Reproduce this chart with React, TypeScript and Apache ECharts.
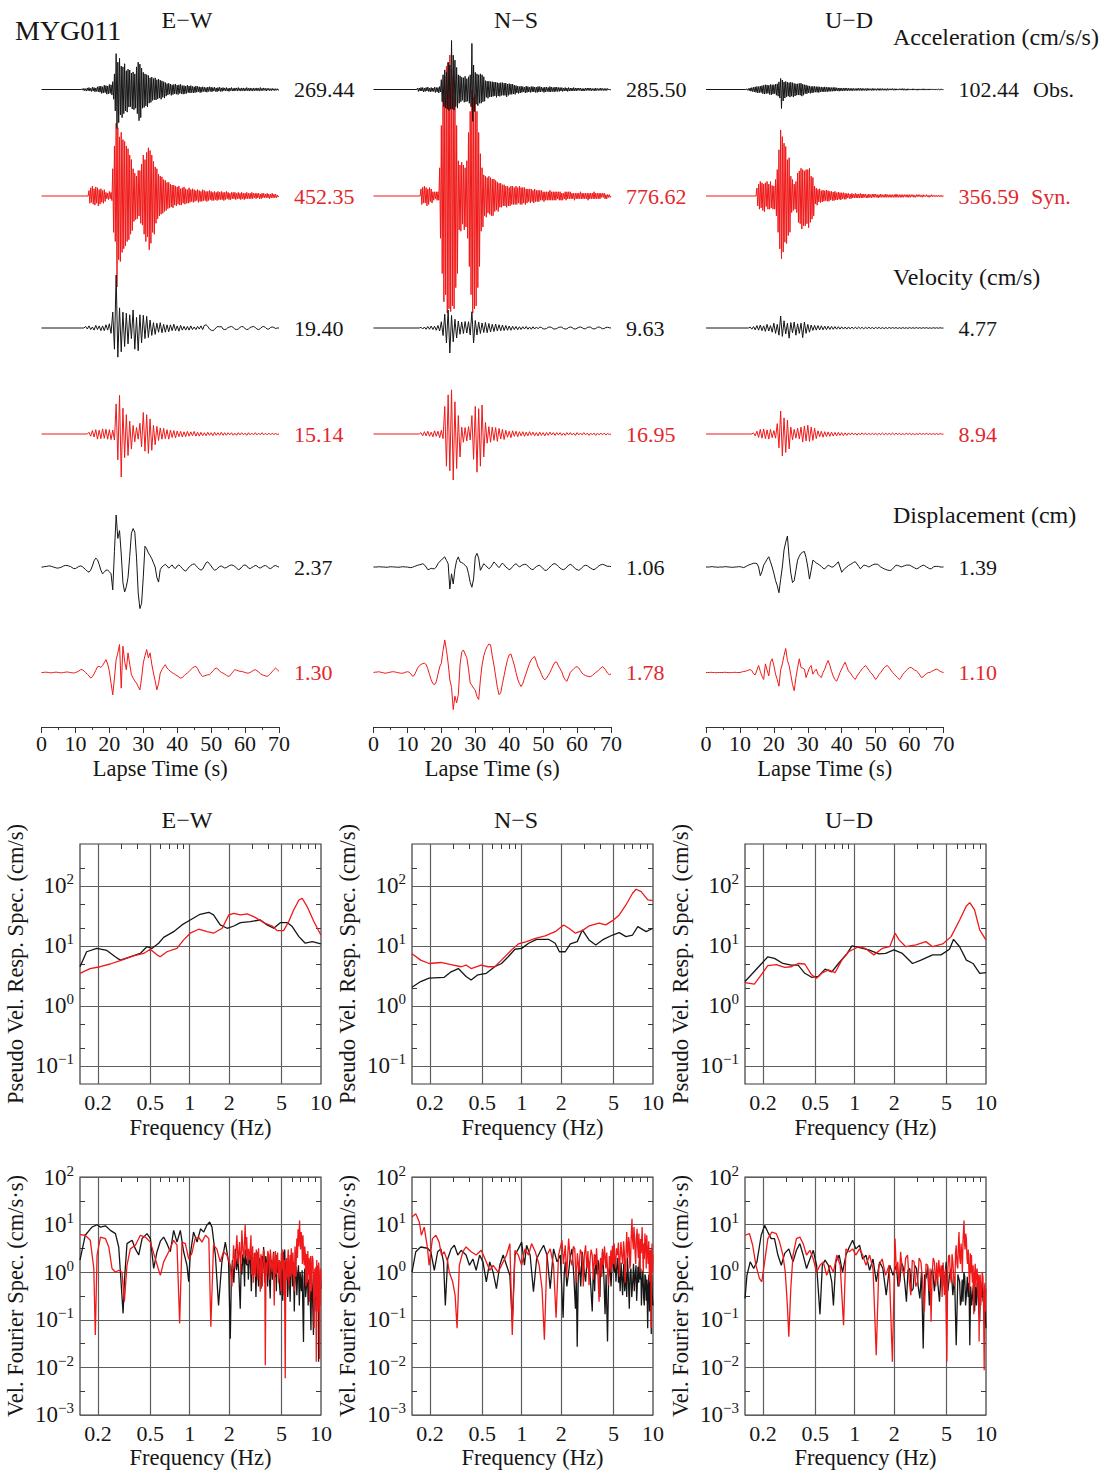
import React, { useEffect, useRef } from 'react';
import * as echarts from 'echarts';

// ---------------- DATA ----------------
const components = ['E\u2212W', 'N\u2212S', 'U\u2212D'];

// peak amplitude labels [E-W, N-S, U-D]
const accObsPeaks = ['269.44', '285.50', '102.44'];
const accSynPeaks = ['452.35', '776.62', '356.59'];
const velObsPeaks = ['19.40', '9.63', '4.77'];
const velSynPeaks = ['15.14', '16.95', '8.94'];
const dispObsPeaks = ['2.37', '1.06', '1.39'];
const dispSynPeaks = ['1.30', '1.78', '1.10'];

// waveforms: percent of the trace's peak, uniformly sampled from the trace start time
const ACC_DT = 0.25;
const VEL_DT = 0.5;
const DISP_DT = 0.5;

const accEwObs = [2,-2,3,-3,2,-4,4,-3,5,-4, 3,-5,6,-4,5,-6,4,-5,7,-6, 8,-7,9,-10,7,-9,11,-8,10,-12, 9,-11,13,-10,12,-14,20,-25,40,-55, 92,-100,70,-85,80,-65,60,-72,58,-62, 66,-55,48,-58,52,-45,50,-44,42,-50, 45,-52,40,-48,58,-62,70,-80,65,-72, 55,-48,44,-46,40,-42,38,-45,36,-35, 30,-33,32,-28,28,-26,30,-27,25,-24, 27,-22,24,-25,22,-20,20,-22,18,-17, 15,-14,16,-12,14,-15,12,-13,13,-11, 14,-12,11,-13,12,-10,13,-11,10,-12, 10,-11,9,-10,11,-8,9,-9,10,-8, 8,-9,7,-8,9,-7,8,-6,7,-8, 6,-7,7,-5,6,-6,5,-7,6,-5, 7,-5,6,-6,5,-4,6,-5,4,-6, 5,-4,6,-5,4,-5,5,-3,4,-4, 5,-4,3,-5,4,-3,5,-4,3,-4, 4,-3,4,-4,5,-3,3,-4,4,-3, 4,-4,3,-3,5,-3,3,-4,4,-3, 3,-4,4,-3,3,-3,4,-3,3,-4, 5,-3,3,-3,4,-2,3,-4,3,-2, 3,-3,2,-3,3,-2,2,-3,2,-2, 2,-2,0];
const accEwSyn = [6,-8,9,-7,11,-9,8,-10,10,-8, 9,-11,7,-9,8,-7,6,-8,7,-6, 4,-3,3,-4,5,-3,4,-5,30,-40, 55,-50,80,-100,75,-70,65,-72,70,-62, 62,-58,60,-55,55,-50,52,-48,45,-42, 40,-38,30,-28,25,-26,22,-25,28,-22, 28,-30,35,-32,45,-42,40,-50,48,-45, 53,-59,50,-52,45,-40,38,-42,32,-30, 30,-25,24,-22,22,-20,21,-19,18,-17, 17,-16,15,-14,15,-13,13,-12,12,-13, 12,-10,11,-11,10,-9,11,-10,8,-10, 9,-8,10,-9,8,-8,7,-8,9,-7, 7,-6,8,-7,7,-6,6,-5,7,-7, 6,-6,5,-6,7,-5,6,-5,5,-6, 5,-5,6,-4,5,-5,4,-5,5,-4, 4,-5,5,-4,4,-4,5,-4,4,-5, 4,-4,5,-3,4,-4,3,-4,4,-3, 4,-3,4,-4,3,-3,4,-3,3,-4, 4,-3,3,-4,3,-3,4,-3,3,-3, 3,-3,4,-3,3,-2,3,-3,3,-2, 3,-3,2,-3,3,-2,3,-2,2,-2, 3,-2,2,-3,2,-2,3,-2,2,-2, 2,-2,1,-1,0];
const accNsObs = [3,-4,3,-3,4,-3,4,-5,3,-4, 4,-3,5,-4,3,-5,4,-4,3,-4, 5,-6,4,-5,4,-7,6,-5,20,-25, 30,-35,40,-38,35,-40,55,-43,50,-40, 100,-40,70,-42,60,-35,45,-38,30,-28, 28,-25,25,-22,24,-26,27,-25,22,-24, 26,-28,30,-35,94,-65,50,-45,35,-30, 32,-33,30,-28,32,-28,30,-25,26,-24, 18,-16,17,-18,17,-15,16,-15,16,-14, 15,-13,15,-16,14,-13,13,-14,14,-12, 14,-12,13,-12,13,-15,11,-12,12,-10, 11,-10,11,-9,9,-10,8,-7,7,-8, 6,-7,7,-6,6,-5,5,-7,7,-6, 6,-5,5,-6,6,-5,6,-5,5,-6, 5,-6,6,-5,6,-5,5,-4,4,-6, 5,-5,5,-4,4,-5,6,-5,5,-4, 4,-5,5,-4,5,-4,4,-4,4,-3, 4,-4,3,-3,4,-3,3,-4,4,-3, 3,-3,3,-3,4,-3,3,-3,3,-2, 3,-2,3,-3,2,-3,2,-3,3,-2, 3,-2,3,-2,3,-3,2,-2,2,-3, 3,-2,2,-2,2,-2,3,-2,2,-2, 2,-2,2,-2,2,-1,1,-1,0];
const accNsSyn = [5,-6,6,-5,7,-5,6,-7,5,-6, 6,-4,5,-5,3,-3,3,-2,3,-3, 3,-3,20,-30,50,-55,70,-75,85,-70, 92,-83,95,-80,100,-82,90,-78,85,-80, 70,-65,50,-55,25,-24,22,-25,24,-20, 22,-24,20,-22,25,-30,45,-50,60,-70, 75,-83,70,-80,72,-78,60,-65,45,-50, 30,-25,20,-22,15,-14,14,-15,13,-12, 14,-13,13,-14,12,-14,12,-11,11,-10, 10,-11,9,-8,9,-8,8,-7,8,-7, 7,-8,7,-7,6,-7,7,-6,7,-6, 6,-6,7,-6,6,-5,7,-6,6,-6, 6,-5,6,-6,5,-5,5,-4,5,-5, 5,-4,4,-5,5,-4,4,-4,4,-4, 4,-3,4,-3,3,-4,3,-3,3,-3, 3,-3,4,-3,3,-3,3,-3,3,-3, 3,-2,3,-3,3,-3,2,-3,2,-2, 3,-3,3,-2,3,-2,3,-2,2,-2, 2,-3,2,-2,2,-2,2,-2,3,-2, 2,-2,2,-2,2,-2,2,-3,2,-2, 2,-2,2,-2,3,-2,2,-2,2,-2, 2,-2,2,-1,2,-1,2,-2,1,-2, 1,-1,1,-1,0];
const accUdObs = [3,-4,5,-6,8,-9,10,-11,12,-13, 14,-15,16,-18,15,-17,18,-16,20,-22, 22,-24,25,-22,24,-20,22,-26,26,-28, 25,-24,25,-22,28,-30,30,-35,40,-45, 58,-100,50,-60,40,-45,42,-38,38,-35, 36,-40,38,-35,36,-40,32,-34,30,-30, 30,-28,32,-30,33,-35,28,-30,25,-22, 24,-23,20,-18,19,-20,16,-18,17,-16, 16,-14,15,-15,15,-16,14,-13,13,-12, 12,-13,14,-11,12,-12,12,-10,11,-10, 10,-9,11,-9,11,-8,9,-8,8,-9, 8,-7,7,-8,8,-7,8,-6,7,-7, 7,-6,6,-6,6,-7,6,-5,5,-6, 6,-5,7,-5,6,-6,6,-5,5,-5, 5,-6,6,-5,5,-4,4,-5,6,-5, 5,-4,4,-5,5,-4,5,-5,5,-4, 5,-4,4,-4,4,-5,5,-4,4,-3, 4,-3,5,-4,4,-4,4,-3,3,-3, 4,-3,4,-3,5,-4,4,-4,3,-4, 4,-3,3,-3,3,-3,4,-3,3,-3, 3,-4,3,-3,3,-3,3,-3,4,-3, 3,-3,3,-3,3,-3,3,-2,3,-2, 3,-2,2,-2,3,-2,2,-2,2,-2, 2,-1,0];
const accUdSyn = [12,-15,18,-20,22,-18,20,-22,18,-24, 20,-16,22,-20,18,-20,22,-18,16,-20, 15,-20,25,-30,40,-55,70,-80,100,-95, 90,-85,80,-70,75,-72,55,-60,58,-55, 30,-25,25,-22,18,-20,22,-25,35,-40, 38,-42,42,-50,40,-45,38,-45,40,-42, 40,-48,42,-40,30,-35,28,-30,15,-12, 12,-14,10,-9,11,-10,8,-9,9,-8, 8,-7,9,-8,8,-8,7,-6,7,-7, 6,-7,7,-6,5,-6,6,-5,5,-6, 5,-4,5,-5,4,-5,4,-3,4,-4, 3,-4,4,-3,3,-3,4,-3,3,-3, 3,-3,4,-3,3,-3,3,-2,3,-3, 2,-3,3,-2,2,-3,3,-2,3,-2, 3,-2,2,-3,2,-2,3,-2,2,-2, 2,-2,3,-2,2,-2,2,-2,2,-2, 2,-2,2,-2,3,-2,2,-2,2,-2, 2,-2,2,-2,2,-1,2,-2,2,-2, 2,-2,2,-1,2,-2,1,-2,2,-1, 2,-1,2,-1,1,-2,2,-1,1,-1, 2,-1,1,-2,1,-1,2,-1,1,-1, 1,-1,1,-1,1,-1,1,-1,1,-1, 0];

const velEwObs = [3,-2,4,-3,2,-4,5,-3,4,-5, 4,-5,6,-4,8,-10,30,-40,100,-55, 38,-45,30,-35,28,-30,25,-20,34,-40, 20,-43,25,-28,24,-20,22,-18,15,-14, 10,-12,9,-8,10,-9,7,-8,6,-7, 6,-5,7,-5,4,-6,5,-4,3,-4, 3,-4,4,-3,2,-3,3,-2,4,-3, 5,6,3,-2,-4,-5,-3,1,3,2, 3,-2,-3,-2,1,2,3,1,-2,-3, -2,1,3,2,-1,-3,-2,1,2,3, 1,-2,-3,-1,2,3,1,-2,-2,1, 2,1,-1,0,0];
const velEwSyn = [4,-5,8,-7,10,-12,9,-11,12,-10, 11,-12,10,-13,9,-14,70,-60,90,-100, 60,-55,45,-50,30,-35,20,-18,15,-12, 25,-30,50,-40,45,-45,35,-38,20,-25, 18,-15,14,-12,13,-11,10,-12,9,-8, 8,-9,7,-6,6,-7,5,-6,6,-5, 5,-4,6,-5,4,-5,4,-4,3,-4, 4,-3,3,-4,4,-3,3,-3,4,-3, 3,-3,3,-2,3,-3,2,-3,3,-2, 3,-2,2,-3,3,-2,2,-2,3,-2, 2,-2,3,-2,2,-2,2,-2,2,-1, 1,-1,0];
const velNsObs = [3,-4,4,-5,6,-5,8,-6,7,-9, 10,-12,25,-30,55,-60,72,-100,50,-55, 35,-40,28,-25,24,-22,26,-20,25,-28, 65,-60,30,-28,24,-22,20,-18,22,-19, 18,-16,15,-14,16,-12,13,-11,12,-10, 10,-9,8,-9,7,-6,6,-7,5,-6, 5,-4,6,-5,4,-5,5,-4,4,-3, 4,2,-3,-4,-2,3,4,2,-3,-4, -2,2,4,3,-2,-4,-3,2,4,2, -3,-4,-1,3,4,1,-3,-3,2,4, 3,-2,-4,-2,3,4,1,-3,-2,2, 3,1,0];
const velNsSyn = [3,-4,5,-4,6,-5,4,-6,7,-5, 6,-8,8,-10,60,-70,85,-80,96,-100, 70,-75,40,-50,15,-18,14,-15,16,-13, 40,-55,60,-83,55,-70,63,-50,25,-20, 16,-18,15,-14,14,-16,12,-11,10,-12, 8,-7,6,-8,7,-5,6,-6,5,-4, 5,-5,4,-4,5,-3,4,-4,3,-4, 4,-3,3,-4,3,-3,4,-2,3,-3, 3,-2,3,-3,2,-3,3,-2,3,-2, 2,-3,3,-2,2,-2,3,-2,2,-3, 2,-2,2,-3,2,-2,2,-2,2,-2, 1,-1,0];
const velUdObs = [8,-10,12,-15,20,-18,25,-22,18,-28, 30,-25,20,-35,40,-45,30,-60,100,-70, 60,-50,40,-85,45,-40,50,-60,35,-45, 40,-80,50,-45,30,-35,25,-20,22,-18, 20,-16,18,-15,16,-14,15,-12,13,-11, 12,-10,11,-9,10,-9,8,-9,9,-8, 8,-7,7,-6,8,-6,6,-7,6,-5, 6,-5,5,-6,5,-4,5,-5,4,-5, 4,-4,5,-4,4,-3,4,-4,3,-4, 4,-3,3,-4,4,-3,3,-3,4,-3, 3,-3,3,-2,3,-3,2,-3,3,-2, 2,-2,2,-1,0];
const velUdSyn = [5,-8,12,-15,20,-18,22,-20,18,-22, 20,-16,15,-18,45,-60,100,-95,70,-80, 60,-65,30,-25,20,-18,25,-22,30,-35, 35,-30,38,-32,30,-28,25,-20,14,-12, 12,-14,10,-11,9,-10,8,-9,7,-8, 7,-6,6,-7,5,-6,5,-4,5,-4, 4,-5,4,-4,5,-3,4,-4,3,-4, 4,-3,3,-4,3,-3,4,-3,3,-3, 3,-3,4,-3,3,-2,3,-3,2,-3, 3,-2,3,-3,2,-3,2,-2,3,-2, 2,-2,3,-2,2,-2,2,-2,2,-2, 2,-1,0];

const dispEwObs = [0,0,1,1,2,2,1,0,-1,-2, -2,-1,0,2,3,3,2,1,-1,-3, -3,-1,1,2,1,-2,-5,-8,-10,-6, 2,12,17,14,5,-6,-13,-10,-6,-6, -9,-13,-44,30,100,55,70,25,-30,-48, -38,-20,20,65,74,67,19,-50,-80,-70, -19,40,35,27,22,16,8,0,-20,-29, -5,0,3,5,2,-2,1,4,-1,-3, 2,4,1,-3,-6,-8,-4,0,3,5, 6,3,-1,-4,-6,-4,2,8,10,6, 2,-3,-6,-5,-2,1,2,0,-2,-1, 1,3,4,3,1,-2,-5,-4,0,3, 4,2,-2,-3,-1,1,3,2,-1,-2, 0,2,3,1,-2,-3,-1,2,3,1, 0];
const dispEwSyn = [0,0,1,1,0,-1,-1,0,1,1, 0,-1,-1,0,1,2,1,0,-1,-2, 0,2,5,10,10,6,0,-6,-12,-20, -15,-5,8,20,22,18,25,35,46,30, 5,-38,-80,-20,46,70,100,-56,94,40, 10,70,30,-8,-20,-30,-38,-50,-62,-20, 34,60,82,52,70,30,-2,-30,-62,-40, -2,10,20,28,16,10,4,0,-4,-8, -12,-16,-20,-18,-12,-6,-2,4,10,16, 20,22,14,2,-8,-14,-12,-10,-8,-8, -2,6,12,16,12,6,0,-2,-6,-10, -14,-12,-4,4,10,8,6,4,4,2, 0,-2,-2,0,4,8,10,6,2,-4, -8,-10,-12,-14,-10,-4,4,10,16,10, 4];
const dispNsObs = [0,0,0,1,1,0,0,-1,-1,0, 1,1,0,0,-1,-1,0,1,1,0, 0,-2,-3,-1,2,5,8,10,12,15, 10,0,-12,-10,-6,-8,-8,0,15,25, 31,40,46,30,15,-100,-31,-77,-10,30, 46,23,20,15,8,0,-30,-70,-92,-54, 46,62,40,-15,0,15,8,0,-8,-2, 10,23,15,5,-3,8,18,10,0,-6, -12,-8,2,10,15,8,0,5,10,12, 12,4,-4,-10,-12,-5,2,6,8,0, -8,-15,-15,-8,0,8,14,15,10,2, -5,-10,-12,-8,0,8,12,8,0,-8, -12,-15,-10,-2,5,8,6,0,-5,-10, -12,-8,0,6,10,12,10,6,3,3, 2];
const dispNsSyn = [0,1,1,2,1,0,-1,-2,-1,0, 1,2,2,1,0,-1,-2,-2,-1,1, 2,1,-4,-10,-8,2,12,18,22,24, 25,22,10,-5,-20,-30,-33,-25,-5,15, 25,60,88,60,25,-20,-40,-100,-64,-82, -60,20,55,61,50,40,10,-28,-35,-42, -48,-65,-73,-20,20,45,60,70,77,75, 45,20,-10,-40,-60,-55,-30,-8,15,35, 48,50,35,20,0,-18,-30,-38,-30,-15, -2,12,25,34,40,43,30,15,7,-5, -15,-20,-15,-8,0,10,20,28,28,18, 10,2,-12,-20,-24,-12,0,5,10,14, 16,12,5,-2,-6,-8,-10,-11,-11,-8, -4,0,3,8,12,16,12,5,-2,-6, -4];
const dispUdObs = [0,0,0,1,1,0,0,-1,0,0, 0,1,1,0,0,-1,-1,0,0,1, 1,0,-2,0,3,6,8,10,12,12, 11,0,-28,-15,6,15,25,33,17,0, -20,-44,-60,-83,-40,0,55,80,100,30, -20,-50,-44,-10,22,35,44,48,50,30, 0,-39,-10,22,18,13,10,6,2,-4, -6,0,6,3,0,0,6,10,17,0, -17,-10,-4,0,5,8,11,15,17,10, 2,-6,0,6,5,3,0,3,6,9, 9,9,5,0,-3,-6,-8,-10,-11,-11, -6,0,6,5,3,0,2,4,6,6, 6,3,0,-3,-6,-4,0,3,6,4, 0,-3,-6,-5,0,2,2,2,0,0, 0];
const dispUdSyn = [0,0,0,1,0,0,-1,0,0,0, 0,1,0,0,-1,0,0,1,0,0, 0,2,4,5,7,10,12,8,-5,-10, 10,29,5,-15,-29,36,10,-14,43,57, 30,-7,-30,-57,10,36,71,100,50,29, -10,-50,-76,-21,20,57,21,18,14,-21, 0,20,29,-7,5,14,-7,-15,-21,0, 14,35,50,30,5,-15,-30,-36,-20,0, 15,30,43,25,5,0,-12,-22,-29,-15, -5,5,15,22,29,20,10,0,-7,-18, -29,-20,-8,0,10,20,26,29,20,10, 0,-7,-15,-22,-29,-20,-8,0,8,15, 20,21,15,10,7,0,-10,-21,-18,-10, -5,0,0,5,8,12,14,10,5,2, 0];

// start time (s) of each waveform array: rows acc obs/syn, vel obs/syn, disp obs/syn
const ewStart = [12, 14, 13, 14, 0, 0];
const nsStart = [13, 14, 14, 14, 0, 0];
const udStart = [12, 15, 13, 14, 0, 0];

// pseudo velocity response spectra [Hz, cm/s]
const rsEwObs = [[0.146,4.5],[0.164,8.0],[0.196,9.1],[0.234,8.4],[0.271,6.6],[0.296,5.8],[0.352,6.6],[0.42,7.5],[0.472,9.7],[0.516,9.1],[0.58,11.1],[0.633,13.9],[0.755,17.3],[0.874,22.4],[1.01,27.1],[1.2,33.7],[1.4,36.4],[1.52,32.9],[1.71,22.4],[1.93,19.7],[2.17,21.5],[2.44,24.5],[2.9,25.5],[3.46,27.1],[3.89,22.4],[4.37,19.7],[4.93,24.5],[5.53,24.5],[6.05,21],[6.8,14.3],[7.6,11.1],[8.6,11.8],[10,10.8]];
const rsEwSyn = [[0.146,3.5],[0.174,4.2],[0.208,4.5],[0.248,5.0],[0.296,5.7],[0.373,6.8],[0.446,7.5],[0.501,8.8],[0.563,7.1],[0.597,6.6],[0.671,8.0],[0.8,9.1],[0.9,12.6],[1.01,16.3],[1.17,19],[1.36,17.3],[1.52,16.3],[1.77,19.7],[1.99,32.9],[2.17,35],[2.44,32.9],[2.74,34.2],[3.08,30.8],[3.67,24.5],[4.25,21.5],[4.64,18],[5.2,18],[5.69,25.5],[6.2,39.8],[6.8,58.4],[7.2,62.3],[7.86,45.3],[8.84,25.5],[10,15.2]];
const rsNsObs = [[0.146,2.05],[0.17,2.55],[0.197,2.9],[0.257,3.0],[0.29,3.7],[0.329,4.2],[0.377,3.1],[0.412,2.7],[0.464,3.3],[0.538,3.5],[0.623,4.5],[0.702,5.1],[0.79,6.6],[0.889,8.8],[1.0,9.1],[1.13,11.1],[1.3,12.9],[1.6,12.9],[1.8,11.1],[1.94,8.0],[2.15,8.0],[2.35,10.8],[2.65,11.8],[2.9,18.5],[3.26,12.6],[3.67,10.4],[4.13,12.6],[4.93,15.2],[5.54,16.7],[6.23,14.3],[7.0,15.2],[7.67,21],[8.89,17.3],[10,19.7]];
const rsNsSyn = [[0.146,7.4],[0.17,5.8],[0.197,5.1],[0.242,5.3],[0.29,4.9],[0.346,4.5],[0.377,4.8],[0.412,4.2],[0.492,4.8],[0.554,4.5],[0.623,4.5],[0.702,5.8],[0.838,8.6],[0.943,10.8],[1.09,11.8],[1.27,13.4],[1.51,14.7],[1.8,17.3],[2.09,22.4],[2.29,19.7],[2.57,16.3],[2.9,18],[3.26,21.5],[3.89,23.9],[4.37,22.4],[4.93,26.4],[5.54,32.9],[6.23,48.2],[7.0,75.5],[7.44,88],[8.14,80.5],[9.15,58.4],[10,57]];
const rsUdObs = [[0.146,2.55],[0.167,3.5],[0.194,5.0],[0.218,6.6],[0.245,6.2],[0.284,5.1],[0.329,4.8],[0.371,4.8],[0.417,3.5],[0.47,3.0],[0.528,3.1],[0.595,4.1],[0.669,3.7],[0.753,5.1],[0.873,7.4],[0.954,10],[1.07,9.5],[1.28,8.6],[1.53,7.4],[1.72,7.5],[1.99,8.6],[2.31,7.5],[2.76,5.1],[3.2,5.8],[3.93,7.1],[4.55,7.1],[5.28,8.8],[5.67,12.9],[6.31,9.7],[7.1,5.8],[7.98,5.1],[8.97,3.5],[10,3.6]];
const rsUdSyn = [[0.146,2.45],[0.172,2.3],[0.194,3.3],[0.218,4.7],[0.253,4.9],[0.293,4.4],[0.329,4.5],[0.371,5.1],[0.417,5.0],[0.47,3.3],[0.513,2.9],[0.561,3.5],[0.631,4.0],[0.71,3.6],[0.799,5.8],[0.899,8.0],[1.07,9.7],[1.21,9.1],[1.4,7.1],[1.62,9.1],[1.85,9.7],[2.03,16.3],[2.18,12.6],[2.45,9.7],[2.93,10.4],[3.49,11.8],[3.93,9.7],[4.69,10.8],[5.43,14.3],[6.31,27.1],[7.1,46.4],[7.54,52.7],[8.2,39.8],[8.97,18.5],[10,12.6]];

// velocity Fourier spectra [Hz, cm/s*s]
const fsEwObs = [[0.146,1.8],[0.16,6.0],[0.18,8.9],[0.197,10],[0.209,8.9],[0.228,9.5],[0.249,7.6],[0.272,6.5],[0.288,3.4],[0.3,0.63],[0.311,0.136],[0.318,0.63],[0.333,4.0],[0.364,4.7],[0.386,3.1],[0.409,2.3],[0.434,5.1],[0.473,6.5],[0.502,5.1],[0.532,1.2],[0.564,2.7],[0.598,4.5],[0.634,5.5],[0.672,4.0],[0.712,2.7],[0.755,7.6],[0.801,4.3],[0.849,7.6],[0.9,2.7],[0.954,1.4],[0.983,0.63],[1.01,2.3],[1.07,7.0],[1.14,4.3],[1.21,8.2],[1.28,7.0],[1.35,9.7],[1.42,11.4],[1.48,8.9],[1.57,2.3],[1.66,0.2],[1.76,1.65],[1.87,4.3],[1.98,1.65],
  [2.04,0.04],[2.08,0.9],[2.12,1.8],[2.17,0.6],[2.23,3.1],[2.28,1.1],[2.33,2.0],[2.36,1.2],[2.43,0.17],[2.47,1.5],[2.5,0.9],[2.54,2.4],[2.58,1.9],[2.62,0.5],[2.65,3.0],[2.69,1.6],[2.73,1.4],[2.77,2.5],[2.8,0.7],[2.85,1.9],[2.9,2.3],[2.95,0.4],[3.0,1.6],[3.07,0.86],[3.11,2.5],[3.15,1.8],[3.2,0.3],[3.26,2.7],[3.3,1.2],[3.35,0.5],[3.4,2.0],[3.45,1.65],[3.5,0.45],[3.55,2.2],[3.6,1.0],[3.66,3.4],[3.7,1.5],[3.75,0.6],[3.8,2.2],[3.88,1.4],[3.93,0.5],[3.98,2.4],[4.04,1.0],[4.11,0.28],[4.15,1.2],[4.2,1.8],[4.27,0.7],[4.36,2.7],[4.4,1.3],[4.45,0.8],[4.52,2.0],[4.58,0.4],[4.62,2.3],[4.68,1.0],[4.75,1.5],[4.82,0.6],[4.9,0.33],[4.96,1.7],[5.05,1.0],[5.12,0.25],[5.19,2.7],[5.25,0.9],[5.3,3.0],[5.38,0.7],[5.45,1.6],[5.5,1.4],[5.58,0.3],[5.65,0.6],[5.72,1.5],[5.83,0.24],[5.9,1.2],[6.0,1.8],[6.08,0.5],[6.19,1.65],[6.27,0.15],[6.35,0.9],[6.45,1.3],[6.56,0.33],[6.65,0.9],[6.75,1.4],[6.85,0.2],[6.95,1.0],[7.03,0.6],[7.1,0.4],[7.2,1.1],[7.37,0.034],[7.45,0.8],[7.55,1.2],[7.65,0.3],[7.81,0.63],[7.9,1.0],[8.0,0.2],[8.1,0.7],[8.29,0.33],[8.4,0.06],[8.5,0.9],[8.62,0.4],[8.78,0.048],[8.9,0.6],[9.0,0.15],[9.15,0.7],[9.31,1.0],[9.38,0.2],[9.45,0.5],[9.52,0.9],[9.6,0.013],[9.7,0.6],[9.8,0.3],[9.9,0.8],[10,0.45]];
const fsEwSyn = [[0.146,6.2],[0.16,6.0],[0.175,4.7],[0.186,1.2],[0.191,0.048],[0.197,2.3],[0.209,5.5],[0.228,5.1],[0.242,3.4],[0.256,1.2],[0.272,1.0],[0.288,1.1],[0.305,1.0],[0.318,0.24],[0.333,1.4],[0.353,3.1],[0.386,3.7],[0.421,6.0],[0.459,5.5],[0.502,4.3],[0.532,2.5],[0.581,1.1],[0.598,0.86],[0.634,1.65],[0.692,2.7],[0.755,4.7],[0.801,3.7],[0.839,0.084],[0.874,4.3],[0.927,4.0],[0.983,1.9],[1.04,2.5],[1.1,5.1],[1.17,5.5],[1.24,4.3],[1.32,6.0],[1.4,5.1],[1.45,0.071],[1.52,3.7],[1.61,3.1],[1.71,1.65],[1.81,2.7],[1.92,2.3],
  [2.04,1.4],[2.1,0.5],[2.16,3.7],[2.22,1.2],[2.29,6.0],[2.34,1.5],[2.4,4.3],[2.45,1.0],[2.5,7.6],[2.54,3.0],[2.58,2.0],[2.62,5.0],[2.65,10],[2.69,2.2],[2.72,5.5],[2.77,1.5],[2.81,3.1],[2.87,1.8],[2.93,6.0],[2.97,0.9],[3.02,3.5],[3.06,0.6],[3.1,1.4],[3.14,2.6],[3.18,0.8],[3.22,3.0],[3.26,2.3],[3.31,0.7],[3.35,3.2],[3.4,1.2],[3.45,0.39],[3.49,2.4],[3.53,1.9],[3.58,0.5],[3.62,1.4],[3.66,3.0],[3.7,2.6],[3.74,0.9],[3.77,0.011],[3.82,1.6],[3.88,0.9],[3.94,2.8],[4.0,2.3],[4.06,0.7],[4.12,3.0],[4.18,1.8],[4.24,1.0],[4.3,1.5],[4.35,2.5],[4.41,0.2],[4.46,1.4],[4.5,2.8],[4.56,0.9],[4.62,1.9],[4.68,2.6],[4.75,0.6],[4.82,1.8],[4.9,1.2],[4.95,0.4],[5.0,2.5],[5.08,1.2],[5.13,3.0],[5.19,0.33],[5.27,1.8],[5.35,0.0059],[5.4,1.0],[5.45,2.0],[5.52,0.7],[5.58,1.65],[5.64,3.0],[5.7,0.5],[5.77,1.4],[5.83,2.3],[5.89,0.8],[5.95,3.2],[6.0,1.6],[6.05,0.9],[6.12,2.6],[6.19,1.0],[6.27,0.4],[6.35,3.5],[6.4,1.6],[6.45,0.8],[6.5,2.2],[6.56,5.1],[6.63,2.0],[6.7,8.0],[6.78,3.5],[6.88,12.3],[6.94,5.0],[7.0,3.0],[7.08,7.0],[7.17,4.3],[7.23,1.5],[7.3,6.0],[7.38,2.2],[7.47,1.4],[7.53,3.5],[7.6,2.5],[7.65,0.9],[7.7,0.5],[7.76,2.4],[7.81,1.9],[7.88,0.6],[7.95,2.8],[8.0,1.5],[8.05,0.9],[8.12,2.0],[8.19,0.24],[8.27,1.2],[8.35,2.2],[8.45,0.4],[8.52,1.0],[8.6,2.2],[8.7,1.8],[8.8,0.5],[8.88,0.066],[8.94,0.8],[9.0,1.2],[9.1,0.3],[9.16,1.3],[9.22,0.013],[9.3,1.8],[9.35,0.9],[9.43,1.4],[9.5,0.15],[9.55,0.5],[9.62,1.6],[9.7,1.1],[9.78,0.015],[9.84,0.9],[9.9,0.2],[9.95,1.2],[10,0.63]];
const fsNsObs = [[0.146,1.0],[0.156,2.7],[0.17,3.4],[0.192,3.2],[0.203,2.7],[0.216,1.1],[0.229,2.7],[0.242,3.1],[0.254,1.65],[0.262,0.2],[0.273,1.9],[0.29,3.1],[0.307,3.7],[0.326,2.3],[0.346,2.9],[0.377,2.3],[0.4,1.4],[0.425,1.9],[0.45,1.1],[0.478,2.3],[0.507,1.65],[0.538,0.63],[0.571,1.65],[0.606,1.0],[0.642,0.45],[0.681,1.4],[0.723,2.3],[0.767,1.4],[0.813,0.86],[0.848,0.091],[0.889,2.3],[0.943,3.1],[1.0,4.3],[1.05,1.4],[1.09,3.7],[1.16,2.3],[1.23,0.39],[1.3,1.9],[1.38,2.7],[1.47,3.7],[1.56,2.3],[1.65,0.45],[1.75,3.1],[1.86,1.65],[1.97,2.3],
  [2.07,0.11],[2.11,0.9],[2.15,1.65],[2.21,0.5],[2.28,1.0],[2.35,2.2],[2.42,3.1],[2.5,0.8],[2.57,0.17],[2.61,0.9],[2.65,0.027],[2.7,0.8],[2.76,1.4],[2.82,0.5],[2.89,2.7],[2.98,1.2],[3.07,0.63],[3.16,2.0],[3.26,1.65],[3.35,0.6],[3.45,0.15],[3.5,0.7],[3.55,1.2],[3.6,0.4],[3.66,2.3],[3.75,0.9],[3.82,1.8],[3.89,1.0],[3.95,0.3],[4.0,1.8],[4.07,0.8],[4.13,2.7],[4.22,1.0],[4.32,0.13],[4.4,0.9],[4.51,0.035],[4.6,0.8],[4.7,1.4],[4.8,0.5],[4.93,3.1],[5.02,1.2],[5.1,1.0],[5.16,2.0],[5.23,0.63],[5.32,1.4],[5.4,2.0],[5.47,0.6],[5.54,1.4],[5.63,0.4],[5.72,1.6],[5.8,0.7],[5.88,0.33],[5.94,0.9],[6.0,1.5],[6.1,0.4],[6.23,1.0],[6.32,0.3],[6.4,2.0],[6.5,0.8],[6.61,0.17],[6.7,0.9],[6.8,1.2],[6.9,0.3],[7.02,0.63],[7.12,1.5],[7.22,0.4],[7.33,0.9],[7.44,1.4],[7.52,0.25],[7.6,0.5],[7.7,1.3],[7.8,0.6],[7.9,2.3],[8.0,0.7],[8.1,1.2],[8.18,0.2],[8.28,0.63],[8.4,1.1],[8.5,0.3],[8.6,0.2],[8.7,0.9],[8.8,0.8],[8.9,0.25],[9.0,0.7],[9.13,0.066],[9.22,0.5],[9.32,0.9],[9.43,0.15],[9.53,0.45],[9.62,0.9],[9.72,0.05],[9.8,0.9],[9.9,0.3],[10,0.2]];
const fsNsSyn = [[0.146,14.5],[0.156,17],[0.166,11.4],[0.172,6.0],[0.181,8.9],[0.192,3.1],[0.197,1.4],[0.209,5.1],[0.222,6.0],[0.235,4.3],[0.245,2.3],[0.257,2.7],[0.273,1.65],[0.281,1.0],[0.298,0.63],[0.311,0.33],[0.322,0.066],[0.335,1.4],[0.356,2.7],[0.377,3.4],[0.412,2.7],[0.45,2.3],[0.492,2.9],[0.538,1.65],[0.571,1.1],[0.606,1.4],[0.662,1.0],[0.723,1.65],[0.767,2.3],[0.813,4.0],[0.848,0.048],[0.889,2.9],[0.943,2.3],[1.0,1.4],[1.06,3.1],[1.13,2.3],[1.19,4.0],[1.27,2.7],[1.36,1.4],[1.43,0.45],[1.49,0.038],[1.56,2.3],[1.65,3.1],[1.75,1.4],[1.83,0.11],[1.91,2.3],
  [2.03,4.7],[2.08,1.5],[2.15,3.7],[2.2,0.8],[2.28,5.1],[2.34,2.0],[2.42,1.4],[2.48,3.5],[2.54,3.1],[2.6,0.6],[2.66,2.5],[2.73,1.0],[2.8,3.0],[2.89,2.3],[2.95,0.5],[3.0,2.2],[3.07,3.7],[3.14,1.2],[3.2,2.8],[3.26,0.53],[3.32,1.8],[3.38,3.0],[3.45,2.3],[3.52,0.7],[3.58,2.4],[3.66,1.4],[3.72,3.2],[3.8,1.1],[3.89,0.24],[3.95,1.5],[4.0,2.0],[4.06,0.8],[4.13,3.1],[4.2,1.4],[4.28,3.5],[4.38,1.2],[4.45,2.6],[4.52,1.0],[4.59,0.53],[4.66,2.2],[4.72,1.2],[4.78,2.9],[4.85,1.0],[4.92,3.6],[5.0,1.5],[5.07,4.0],[5.13,2.0],[5.2,1.2],[5.28,3.2],[5.38,2.3],[5.46,4.2],[5.55,0.8],[5.62,2.0],[5.71,4.3],[5.8,2.2],[5.9,1.5],[5.98,4.5],[6.06,2.7],[6.13,0.6],[6.2,0.9],[6.26,3.6],[6.32,7.0],[6.38,3.0],[6.45,2.0],[6.53,5.5],[6.61,4.3],[6.68,1.2],[6.75,1.5],[6.84,6.0],[6.93,13.4],[7.0,5.0],[7.1,3.0],[7.17,9.0],[7.24,6.0],[7.32,2.5],[7.4,1.5],[7.48,5.0],[7.58,8.2],[7.66,3.5],[7.75,2.0],[7.82,6.5],[7.9,2.7],[7.98,1.0],[8.05,5.0],[8.15,2.5],[8.28,8.9],[8.36,3.0],[8.45,1.0],[8.52,4.0],[8.6,1.9],[8.7,6.5],[8.8,4.0],[8.9,1.2],[8.98,6.0],[9.08,3.0],[9.2,1.5],[9.3,4.5],[9.42,0.63],[9.5,2.5],[9.6,3.0],[9.66,0.9],[9.71,0.066],[9.78,2.0],[9.85,4.0],[9.93,1.0],[10,2.3]];
const fsUdObs = [[0.146,0.28],[0.151,0.86],[0.16,1.65],[0.17,1.2],[0.18,1.65],[0.194,6.0],[0.206,9.7],[0.218,7.0],[0.231,5.1],[0.245,5.1],[0.26,2.3],[0.276,1.4],[0.293,2.5],[0.315,3.1],[0.339,1.65],[0.36,2.9],[0.382,4.0],[0.405,2.3],[0.43,1.2],[0.456,1.9],[0.484,2.9],[0.513,1.4],[0.544,0.13],[0.567,1.4],[0.595,1.8],[0.631,1.4],[0.669,0.63],[0.689,0.2],[0.718,1.65],[0.762,2.3],[0.809,1.0],[0.858,2.3],[0.91,3.4],[0.965,4.7],[1.02,3.1],[1.09,3.7],[1.15,1.9],[1.22,2.3],[1.3,1.1],[1.38,1.9],[1.46,0.63],[1.55,1.65],[1.64,1.2],[1.74,0.33],[1.85,1.4],[1.96,0.86],
  [2.08,1.4],[2.14,0.5],[2.21,0.63],[2.27,1.6],[2.34,1.3],[2.41,0.6],[2.48,0.24],[2.55,1.1],[2.63,1.2],[2.71,0.4],[2.79,0.45],[2.87,1.4],[2.96,1.2],[3.05,0.5],[3.14,0.28],[3.23,1.0],[3.33,0.025],[3.41,0.9],[3.5,0.74],[3.6,1.3],[3.71,0.2],[3.82,0.9],[3.93,1.2],[4.05,0.4],[4.17,1.0],[4.3,0.6],[4.43,0.24],[4.56,1.0],[4.69,1.4],[4.83,0.5],[4.98,1.65],[5.13,0.4],[5.28,0.86],[5.44,1.2],[5.6,0.33],[5.77,0.8],[5.94,0.029],[6.12,0.9],[6.31,0.63],[6.4,0.2],[6.5,0.25],[6.6,0.7],[6.69,0.24],[6.8,1.0],[6.9,0.8],[7.0,0.2],[7.1,0.33],[7.22,0.8],[7.34,0.3],[7.44,0.6],[7.54,0.029],[7.66,0.5],[7.8,0.2],[7.98,0.45],[8.1,0.7],[8.2,0.15],[8.33,0.5],[8.47,0.2],[8.58,0.6],[8.7,0.5],[8.83,0.15],[8.97,0.091],[9.08,0.4],[9.2,0.3],[9.35,0.6],[9.52,0.24],[9.64,0.4],[9.75,0.08],[9.88,0.3],[10,0.066]];
const fsUdSyn = [[0.146,6.0],[0.158,6.5],[0.167,3.7],[0.177,1.4],[0.188,0.74],[0.196,0.63],[0.206,1.65],[0.218,5.1],[0.234,7.0],[0.253,6.5],[0.268,4.3],[0.284,2.3],[0.296,1.0],[0.307,0.2],[0.315,0.044],[0.326,0.45],[0.339,2.3],[0.36,5.1],[0.382,5.5],[0.405,4.0],[0.43,2.3],[0.456,2.9],[0.484,1.9],[0.513,1.0],[0.544,1.4],[0.577,1.65],[0.612,0.86],[0.65,1.4],[0.689,1.0],[0.731,2.3],[0.776,1.4],[0.823,0.077],[0.858,3.1],[0.91,2.7],[0.965,3.1],[1.02,2.3],[1.09,3.1],[1.15,2.3],[1.22,1.4],[1.3,2.3],[1.38,1.2],[1.46,0.018],[1.53,1.4],[1.62,1.9],[1.72,0.86],[1.83,1.4],[1.94,0.013],
  [2.03,5.1],[2.08,1.0],[2.13,1.65],[2.18,0.5],[2.24,2.7],[2.3,1.2],[2.38,0.86],[2.45,2.0],[2.53,2.3],[2.6,0.7],[2.68,0.33],[2.75,1.8],[2.84,1.65],[2.92,0.5],[3.02,0.63],[3.1,2.0],[3.2,1.65],[3.3,0.6],[3.4,0.15],[3.5,1.5],[3.6,1.4],[3.7,0.4],[3.76,1.2],[3.82,0.091],[3.9,1.0],[3.97,2.0],[4.05,1.65],[4.15,0.5],[4.22,1.6],[4.3,0.63],[4.38,1.8],[4.47,0.8],[4.56,1.4],[4.64,0.3],[4.72,1.6],[4.83,0.33],[4.92,1.2],[5.04,0.013],[5.12,1.0],[5.2,2.2],[5.28,2.3],[5.36,0.8],[5.45,0.6],[5.52,2.4],[5.6,1.65],[5.7,0.7],[5.8,0.5],[5.87,2.5],[5.94,3.7],[6.02,1.5],[6.1,1.2],[6.17,3.5],[6.24,7.0],[6.32,2.0],[6.4,1.5],[6.47,4.0],[6.54,2.7],[6.62,1.0],[6.7,5.0],[6.81,12.3],[6.88,4.0],[6.95,3.0],[7.02,6.5],[7.1,5.1],[7.18,2.0],[7.25,1.5],[7.34,3.0],[7.43,1.0],[7.52,0.4],[7.6,2.5],[7.68,1.0],[7.76,2.3],[7.83,0.9],[7.9,0.6],[8.0,1.4],[8.09,0.13],[8.2,0.9],[8.3,1.5],[8.38,0.5],[8.47,1.0],[8.58,1.2],[8.7,0.3],[8.8,0.9],[8.88,0.035],[8.97,0.6],[9.05,0.9],[9.15,0.2],[9.28,0.45],[9.38,1.0],[9.5,0.8],[9.6,0.2],[9.71,0.0087],[9.78,0.5],[9.85,0.6],[9.92,0.15],[10,0.45]];

// axis tick values
const timeRange = [0, 70, 10];
const freqLabels = [0.2, 0.5, 1, 2, 5, 10];
const freqGrid = [0.2, 0.5, 1, 2, 5];
const freqMinor = [0.3, 0.4, 0.6, 0.7, 0.8, 0.9, 3, 4, 6, 7, 8, 9];
const rsMajor = [0.1, 1, 10, 100];
const rsMinor = [0.2, 0.5, 2, 5, 20, 50, 200];
const fsMajor = [0.001, 0.01, 0.1, 1, 10, 100];
const fsMinor = [0.00316, 0.0316, 0.316, 3.16, 31.6];

// ---------------- LAYOUT / STYLE ----------------
const FONT = '"Liberation Serif", "Times New Roman", Times, serif';
const INK = '#161616';
const RED = '#f01818';
const RED_TEXT = '#e2282d';
const GRIDLINE = '#5e5e5e';
const BOX = '#3a3a3a';

const COL_LEFT = [41.5, 373.5, 706];
const COL_W = 237.5;
const ROW_BASE = [89.5, 196, 328, 434, 567, 672.5];
const ROW_PX = [
  [39, 91, 53, 43, 52, 28],
  [49, 141, 25, 46, 22, 37],
  [19, 66, 12, 23, 31, 24],
];
const ROW_DT = [ACC_DT, ACC_DT, VEL_DT, VEL_DT, DISP_DT, DISP_DT];
const TITLE_X = [187, 516, 849];
const SPEC_LEFT = [80, 412, 745];
const SPEC_W = 241;

function fmtFreq(v: number) {
  return String(Math.round(v * 10) / 10);
}
function fmtPow(v: number) {
  const e = Math.round(Math.log10(v));
  return '{b|10}{s|' + (e < 0 ? '\u2212' + Math.abs(e) : String(e)) + '}';
}
const POW_RICH = {
  b: { fontSize: 23, fontFamily: FONT, color: INK, lineHeight: 28 },
  s: { fontSize: 15, fontFamily: FONT, color: INK, lineHeight: 16, verticalAlign: 'top' },
};

function buildOption() {
  const grid: any[] = [];
  const xAxis: any[] = [];
  const yAxis: any[] = [];
  const series: any[] = [];
  const graphic: any[] = [];

  const txt = (text: string, x: number, y: number, o: any = {}) => {
    graphic.push({
      type: 'text', x, y, rotation: o.rot || 0, silent: true, z: 10,
      style: {
        text, fontSize: o.size || 22, fontFamily: FONT, fill: o.color || INK,
        align: o.align || 'left', verticalAlign: 'middle',
      },
    });
  };

  const waveSets = [
    [accEwObs, accEwSyn, velEwObs, velEwSyn, dispEwObs, dispEwSyn],
    [accNsObs, accNsSyn, velNsObs, velNsSyn, dispNsObs, dispNsSyn],
    [accUdObs, accUdSyn, velUdObs, velUdSyn, dispUdObs, dispUdSyn],
  ];
  const starts = [ewStart, nsStart, udStart];
  const peakRows = [accObsPeaks, accSynPeaks, velObsPeaks, velSynPeaks, dispObsPeaks, dispSynPeaks];

  for (let c = 0; c < 3; c++) {
    for (let r = 0; r < 6; r++) {
      const g = grid.length;
      const p = ROW_PX[c][r];
      grid.push({ left: COL_LEFT[c], width: COL_W, top: ROW_BASE[r] - p, height: 2 * p, show: false, outerBoundsMode: 'none' });
      xAxis.push({ type: 'value', gridIndex: g, min: timeRange[0], max: timeRange[1], show: false });
      yAxis.push({ type: 'value', gridIndex: g, min: -100, max: 100, show: false });
      const vals = waveSets[c][r];
      const t0 = starts[c][r];
      const dt = ROW_DT[r];
      const data: number[][] = [];
      if (t0 > 0) {
        data.push([0, 0]);
        data.push([t0 - dt, 0]);
      }
      vals.forEach((v, i) => data.push([t0 + i * dt, v]));
      const isObs = r % 2 === 0;
      series.push({
        type: 'line', xAxisIndex: g, yAxisIndex: g, data, symbol: 'none', showSymbol: false,
        lineStyle: { width: 1, color: isObs ? INK : RED }, z: isObs ? 4 : 3, silent: true, clip: false,
      });
      txt(peakRows[r][c], COL_LEFT[c] + COL_W + 15, ROW_BASE[r], { color: isObs ? INK : RED_TEXT });
    }
    // time axis
    const g = grid.length;
    grid.push({ left: COL_LEFT[c], width: COL_W, top: 690, height: 37, show: false, outerBoundsMode: 'none' });
    xAxis.push({
      type: 'value', gridIndex: g, min: timeRange[0], max: timeRange[1], interval: timeRange[2],
      axisLine: { show: true, onZero: false, lineStyle: { color: '#333', width: 1 } },
      axisTick: { show: true, length: 6, lineStyle: { color: '#333', width: 1 } },
      minorTick: { show: true, splitNumber: 2, length: 3, lineStyle: { color: '#333', width: 1 } },
      axisLabel: { fontSize: 22, fontFamily: FONT, color: INK, margin: 5, showMinLabel: true, showMaxLabel: true },
      splitLine: { show: false },
    });
    yAxis.push({ type: 'value', gridIndex: g, min: 0, max: 1, show: false });
    txt('Lapse Time (s)', COL_LEFT[c] + COL_W / 2, 768, { align: 'center', size: 22.5 });
    txt(components[c], TITLE_X[c], 20, { align: 'center', size: 24 });
    txt(components[c], TITLE_X[c], 820, { align: 'center', size: 24 });
  }

  const addSpec = (col: number, top: number, height: number, yMin: number, yMax: number,
    yMajor: number[], yMinor: number[], obs: number[][], syn: number[][]) => {
    const g = grid.length;
    grid.push({
      left: SPEC_LEFT[col], top, width: SPEC_W, height, show: true,
      borderColor: BOX, borderWidth: 1.2, backgroundColor: 'transparent', outerBoundsMode: 'none',
    });
    const xi = xAxis.length;
    const xBase = { type: 'log', logBase: 10, gridIndex: g, min: 0.146, max: 10.02 };
    xAxis.push({
      ...xBase,
      axisLine: { show: false, onZero: false },
      axisTick: { show: false, customValues: freqGrid },
      axisLabel: { show: true, customValues: freqLabels, formatter: fmtFreq, fontSize: 22, fontFamily: FONT, color: INK, margin: 7 },
      splitLine: { show: true, lineStyle: { color: GRIDLINE, width: 1.2 } },
      minorTick: { show: false }, minorSplitLine: { show: false },
    });
    xAxis.push({
      ...xBase, position: 'top',
      axisLine: { show: false, onZero: false },
      axisTick: { show: true, inside: true, length: 5, customValues: freqMinor, lineStyle: { color: BOX, width: 1 } },
      axisLabel: { show: false }, splitLine: { show: false },
    });
    const yi = yAxis.length;
    const yBase = { type: 'log', logBase: 10, gridIndex: g, min: yMin, max: yMax };
    yAxis.push({
      ...yBase, position: 'left',
      axisLine: { show: false, onZero: false },
      axisTick: { show: false, customValues: yMajor },
      axisLabel: { show: true, customValues: yMajor, formatter: fmtPow, rich: POW_RICH, color: INK, margin: 6 },
      splitLine: { show: true, lineStyle: { color: GRIDLINE, width: 1.2 } },
      minorTick: { show: false }, minorSplitLine: { show: false },
    });
    ['left', 'right'].forEach((pos) => {
      yAxis.push({
        ...yBase, position: pos,
        axisLine: { show: false, onZero: false },
        axisTick: { show: true, inside: true, length: 5, customValues: yMinor, lineStyle: { color: BOX, width: 1 } },
        axisLabel: { show: false }, splitLine: { show: false },
      });
    });
    series.push({
      type: 'line', xAxisIndex: xi, yAxisIndex: yi, data: obs, symbol: 'none', showSymbol: false,
      lineStyle: { color: INK, width: 1.3 }, z: 3, silent: true,
    });
    series.push({
      type: 'line', xAxisIndex: xi, yAxisIndex: yi, data: syn, symbol: 'none', showSymbol: false,
      lineStyle: { color: RED, width: 1.3 }, z: 4, silent: true,
    });
  };

  const rsSets = [[rsEwObs, rsEwSyn], [rsNsObs, rsNsSyn], [rsUdObs, rsUdSyn]];
  const fsSets = [[fsEwObs, fsEwSyn], [fsNsObs, fsNsSyn], [fsUdObs, fsUdSyn]];
  for (let c = 0; c < 3; c++) {
    addSpec(c, 844, 240, 0.05, 500, rsMajor, rsMinor, rsSets[c][0], rsSets[c][1]);
    addSpec(c, 1177, 238, 0.00099, 101, fsMajor, fsMinor, fsSets[c][0], fsSets[c][1]);
    const cx = SPEC_LEFT[c] + SPEC_W / 2;
    txt('Frequency (Hz)', cx, 1127, { align: 'center', size: 22.5 });
    txt('Frequency (Hz)', cx, 1457, { align: 'center', size: 22.5 });
    txt('Pseudo Vel. Resp. Spec. (cm/s)', SPEC_LEFT[c] - 65, 964, { align: 'center', rot: Math.PI / 2, size: 22.5 });
    txt('Vel. Fourier Spec. (cm/s\u00b7s)', SPEC_LEFT[c] - 65, 1296, { align: 'center', rot: Math.PI / 2, size: 22.5 });
  }

  txt('MYG011', 15, 30, { size: 28 });
  txt('Acceleration (cm/s/s)', 893, 37, { size: 24 });
  txt('Velocity (cm/s)', 893, 277, { size: 24 });
  txt('Displacement (cm)', 893, 515, { size: 24 });
  txt('Obs.', 1033, ROW_BASE[0]);
  txt('Syn.', 1031, ROW_BASE[1], { color: RED_TEXT });

  return {
    animation: false,
    backgroundColor: '#ffffff',
    textStyle: { fontFamily: FONT },
    grid, xAxis, yAxis, series, graphic,
  };
}

export default function App() {
  const ref = useRef<HTMLDivElement>(null);
  useEffect(() => {
    const chart = echarts.init(ref.current as HTMLDivElement, null, { renderer: 'svg' });
    chart.setOption(buildOption() as any);
    return () => chart.dispose();
  }, []);
  return (
    <div
      ref={ref}
      style={{ position: 'absolute', left: 0, top: 0, width: 1110, height: 1473, background: '#ffffff' }}
    />
  );
}
